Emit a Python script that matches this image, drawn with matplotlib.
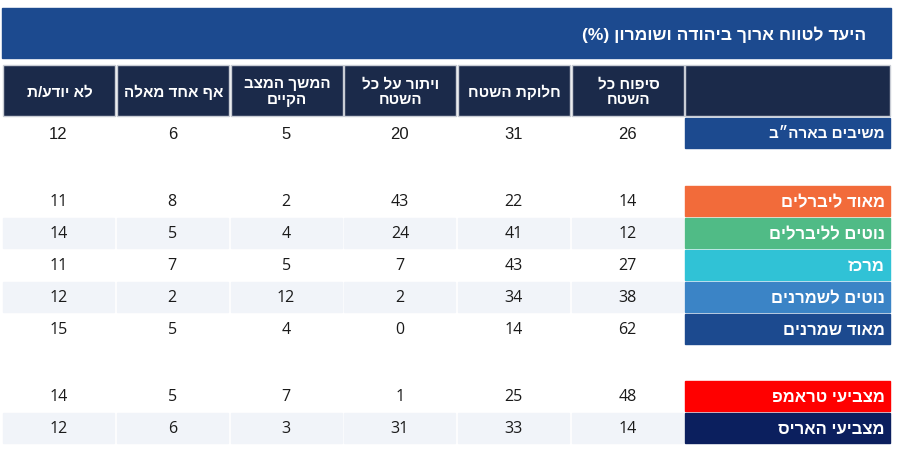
import matplotlib.pyplot as plt
from matplotlib.patches import Rectangle

# data (logical hebrew order, columns right -> left)
title = 'היעד לטווח ארוך ביהודה ושומרון (%)'
columns = ['סיפוח כל\nהשטח', 'חלוקת השטח', 'ויתור על כל\nהשטח',
           'המשך המצב\nהקיים', 'אף אחד מאלה', 'לא יודע/ת']

total_label = ['משיבים בארה״ב']
total_values = [[26, 31, 20, 5, 6, 12]]

ideology_labels = ['מאוד ליברלים', 'נוטים לליברלים', 'מרכז', 'נוטים לשמרנים', 'מאוד שמרנים']
ideology_values = [[14, 22, 43, 2, 8, 11],
                   [12, 41, 24, 4, 5, 14],
                   [27, 43, 7, 5, 7, 11],
                   [38, 34, 2, 12, 2, 12],
                   [62, 14, 0, 4, 5, 15]]

vote_labels = ['מצביעי טראמפ', 'מצביעי האריס']
vote_values = [[48, 25, 1, 7, 5, 14],
               [14, 33, 31, 3, 6, 12]]

label_colors = {
    'משיבים בארה״ב': '#1c4a8f',
    'מאוד ליברלים': '#f26b3a',
    'נוטים לליברלים': '#50bb86',
    'מרכז': '#30c2d6',
    'נוטים לשמרנים': '#3b84c6',
    'מאוד שמרנים': '#1c4a8f',
    'מצביעי טראמפ': '#ff0000',
    'מצביעי האריס': '#0b1f5e',
}

narrow = ['Liberation Sans Narrow', 'Liberation Sans', 'DejaVu Sans']
body = ['Open Sans', 'Liberation Sans', 'DejaVu Sans']
bold_lab = ['Liberation Sans', 'DejaVu Sans']


def rtl(s):
    # matplotlib has no bidi: flip each line, mirror brackets
    swap = {'(': ')', ')': '('}
    lines = []
    for line in s.split('\n'):
        lines.append(''.join(swap.get(c, c) for c in line[::-1]))
    return '\n'.join(lines)


fig = plt.figure(figsize=(9.04, 4.6), dpi=100)
ax = fig.add_axes([0, 0, 1, 1])
ax.set_xlim(0, 904)
ax.set_ylim(460, 0)
ax.axis('off')

# title bar
ax.add_patch(Rectangle((2, 9), 889, 50, color='#1c4a8f'))
ax.text(866, 35, rtl(title), ha='right', va='center', color='white',
        fontsize=12.5, fontweight='bold', family=narrow)

col_w = 111
col_x = [572 - k * 113.8 for k in range(len(columns))]
lab_x, lab_w = 685, 205

# header row
ax.add_patch(Rectangle((lab_x, 66), lab_w, 51, facecolor='#1b2a4a',
                       edgecolor='#c9cdd5', lw=1))
for k, c in enumerate(columns):
    ax.add_patch(Rectangle((col_x[k], 66), col_w + 1, 51, facecolor='#1b2a4a',
                           edgecolor='#c9cdd5', lw=1))
    ax.text(col_x[k] + col_w / 2 + 1, 92, rtl(c), ha='center', va='center',
            color='white', fontsize=11, fontweight='bold', family=narrow,
            linespacing=1.15)


def draw_rows(labels, values, top, fam, lab_fam, num_size, lab_size):
    for i, (lab, vals) in enumerate(zip(labels, values)):
        y = top + i * 32
        if i % 2 == 1:
            for k in range(len(vals)):
                ax.add_patch(Rectangle((col_x[k], y), col_w, 30, color='#f1f4f9'))
        ax.add_patch(Rectangle((lab_x, y), lab_w, 30, color=label_colors[lab]))
        ax.text(lab_x + lab_w - 5, y + 15.5, rtl(lab), ha='right', va='center',
                color='white', fontsize=lab_size, fontweight='bold', family=lab_fam)
        for k, v in enumerate(vals):
            ax.text(col_x[k] + col_w / 2, y + 15.5, str(v), ha='center',
                    va='center', color='#1a1a1a', fontsize=num_size, family=fam,
                    fontweight='medium')


draw_rows(total_label, total_values, 119, narrow, narrow, 12, 11)
draw_rows(ideology_labels, ideology_values, 187, body, bold_lab, 11.5, 12)
draw_rows(vote_labels, vote_values, 382, body, bold_lab, 11.5, 12)

fig.savefig('out.png', dpi=100)
